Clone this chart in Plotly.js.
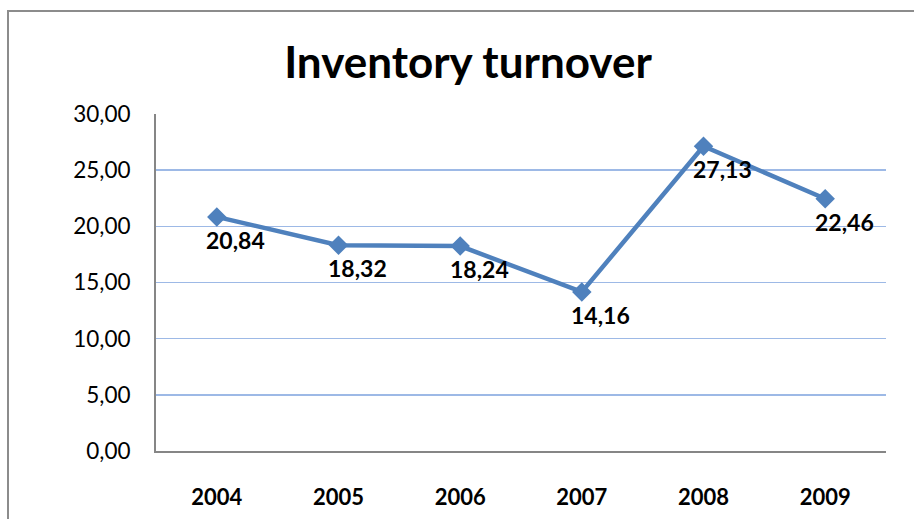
<!DOCTYPE html>
<html><head><meta charset="utf-8">
<script src="https://cdn.plot.ly/plotly-3.0.1.min.js"></script>
<style>
html,body{margin:0;padding:0;background:#fff;overflow:hidden;}
#chart{width:914px;height:519px;}
#frame{position:absolute;left:7px;top:10px;width:940px;height:540px;border:2px solid #8c8c8c;pointer-events:none;box-sizing:border-box;}
</style></head>
<body>
<div id="chart"></div>
<div id="frame"></div>
<script>
const years = ['2004','2005','2006','2007','2008','2009'];
const turnover = [20.84, 18.32, 18.24, 14.16, 27.13, 22.46];
const yTickVals = [0,5,10,15,20,25,30];
const yTickText = ['0,00','5,00','10,00','15,00','20,00','25,00','30,00'];
const fmt = v => v.toFixed(2).replace('.', ',');

const FONT = 'Lato, "Open Sans", sans-serif';
const trace = {
  x: years, y: turnover, type: 'scatter', mode: 'lines+markers',
  line: {color: '#4F81BD', width: 4.5},
  marker: {symbol: 'diamond', size: 15, color: '#4F81BD'},
  hoverinfo: 'skip'
};
const annotations = years.map((yr, i) => ({
  x: i, y: turnover[i], xref: 'x', yref: 'y', text: '<b>' + fmt(turnover[i]) + '</b>',
  showarrow: false, xshift: 19, yshift: -23,
  font: {family: FONT, size: 23, color: '#000'}
}));
const layout = {
  width: 914, height: 519,
  margin: {l: 156, r: 28, t: 114, b: 68},
  paper_bgcolor: '#fff', plot_bgcolor: '#fff',
  showlegend: false,
  title: {text: '<b>Inventory turnover</b>', x: 0.512, xref: 'container', xanchor: 'center',
          y: 0.88, yref: 'container', yanchor: 'middle',
          font: {family: FONT, size: 44, color: '#000'}},
  xaxis: {type: 'category', range: [-0.5, 5.5], showgrid: false, zeroline: false,
          showline: true, linecolor: '#868686', linewidth: 2, ticks: '',
          tickfont: {family: FONT, size: 22, color: '#000'}, ticklabelstandoff: 26,
          tickvals: years, ticktext: years.map(y => '<b>' + y + '</b>')},
  yaxis: {range: [0, 30], tickvals: yTickVals, ticktext: yTickText,
          showgrid: true, gridcolor: '#9DB9E6', gridwidth: 1.5, zeroline: false,
          showline: true, linecolor: '#868686', linewidth: 2, ticks: '',
          tickfont: {family: FONT, size: 22.5, color: '#000'}, ticklabelstandoff: 19},
  annotations: annotations
};
Plotly.newPlot('chart', [trace], layout, {staticPlot: true, displayModeBar: false});
</script>
</body></html>
